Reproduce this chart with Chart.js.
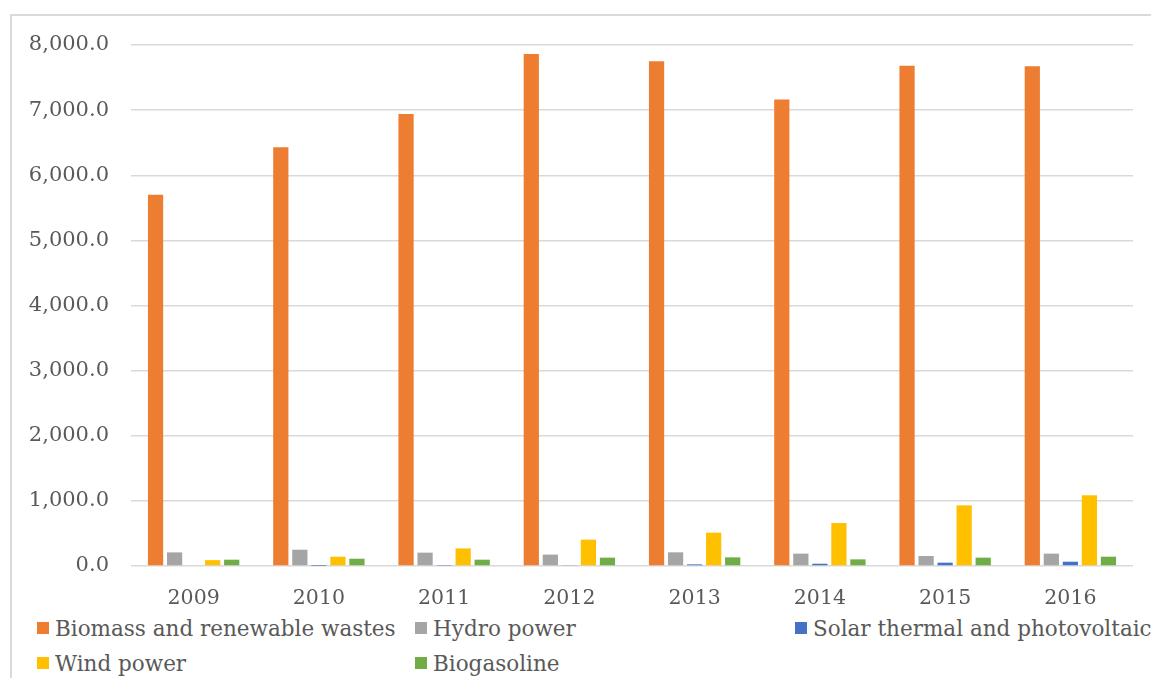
<!DOCTYPE html>
<html>
<head>
<meta charset="utf-8">
<script src="https://cdn.jsdelivr.net/npm/chart.js@4/dist/chart.umd.min.js"></script>
<style>
  html, body { margin: 0; padding: 0; background: #fff; overflow: hidden; width: 1151px; height: 678px; }
  #edgeTop { position: absolute; left: 10px; top: 14px; width: 1141px; height: 2px; background: #dadada; }
  #edgeLeft { position: absolute; left: 10px; top: 14px; width: 2px; height: 664px; background: #dadada; }
  #wrap { position: absolute; left: 0; top: 0; width: 1151px; height: 615px; }
  #legend { position: absolute; left: 37px; top: 616px; display: grid; grid-template-columns: 378px 380px 380px; row-gap: 11px;
    font-family: "DejaVu Serif", serif; font-size: 21.5px; color: #595959; }
  #legend .item { display: flex; align-items: center; white-space: nowrap; height: 24px; }
  #legend .box { width: 12px; height: 12px; margin-right: 6px; flex: none; }
</style>
</head>
<body>
<div id="edgeTop"></div>
<div id="edgeLeft"></div>
<div id="wrap"><canvas id="renewChart"></canvas></div>
<div id="legend"></div>
<script>
// data
var years = ["2009","2010","2011","2012","2013","2014","2015","2016"];
var biomass = [5700, 6430, 6940, 7860, 7750, 7165, 7680, 7675];
var hydro   = [209, 250, 205, 175, 210, 190, 154, 190];
var solar   = [0, 2, 6, 9, 25, 35, 51, 66];
var wind    = [90, 143, 270, 405, 512, 660, 931, 1085];
var biogas  = [97, 112, 97, 128, 133, 102, 128, 143];

var textColor = '#595959';
var serif = '"DejaVu Serif", serif';

var ctx = document.getElementById("renewChart");
var renewChart = new Chart(ctx, {
  type: 'bar',
  data: {
    labels: years,
    datasets: [
      { label: "Biomass and renewable wastes", data: biomass, backgroundColor: "#ED7D31" },
      { label: "Hydro power", data: hydro, backgroundColor: "#A5A5A5" },
      { label: "Solar thermal and photovoltaic", data: solar, backgroundColor: "#4472C4" },
      { label: "Wind power", data: wind, backgroundColor: "#FFC000" },
      { label: "Biogasoline", data: biogas, backgroundColor: "#70AD47" }
    ]
  },
  options: {
    responsive: true,
    maintainAspectRatio: false,
    animation: false,
    categoryPercentage: 0.76,
    barPercentage: 0.8,
    layout: { padding: { top: 45, right: 18, left: 0, bottom: 0 } },
    plugins: {
      legend: { display: false },
      tooltip: { enabled: false }
    },
    scales: {
      x: {
        grid: { display: false, drawTicks: false },
        border: { display: false },
        ticks: { color: textColor, font: { family: serif, size: 20.5 }, padding: 20 },
        afterFit: function(scale) { scale.height = 49; }
      },
      y: {
        min: 0, max: 8000,
        grid: { color: '#d9d9d9', lineWidth: 1.5, drawTicks: false },
        border: { display: false },
        ticks: {
          stepSize: 1000,
          color: textColor,
          font: { family: serif, size: 21 },
          padding: 22,
          callback: function(v) { return v.toLocaleString('en-US', { minimumFractionDigits: 1, maximumFractionDigits: 1 }); }
        },
        afterFit: function(scale) { scale.width = 131; }
      }
    }
  }
});

// legend laid out in fixed columns like the original
var legend = document.getElementById("legend");
renewChart.data.datasets.forEach(function(ds) {
  var item = document.createElement("div");
  item.className = "item";
  var box = document.createElement("span");
  box.className = "box";
  box.style.background = ds.backgroundColor;
  item.appendChild(box);
  item.appendChild(document.createTextNode(ds.label));
  legend.appendChild(item);
});
</script>
</body>
</html>
